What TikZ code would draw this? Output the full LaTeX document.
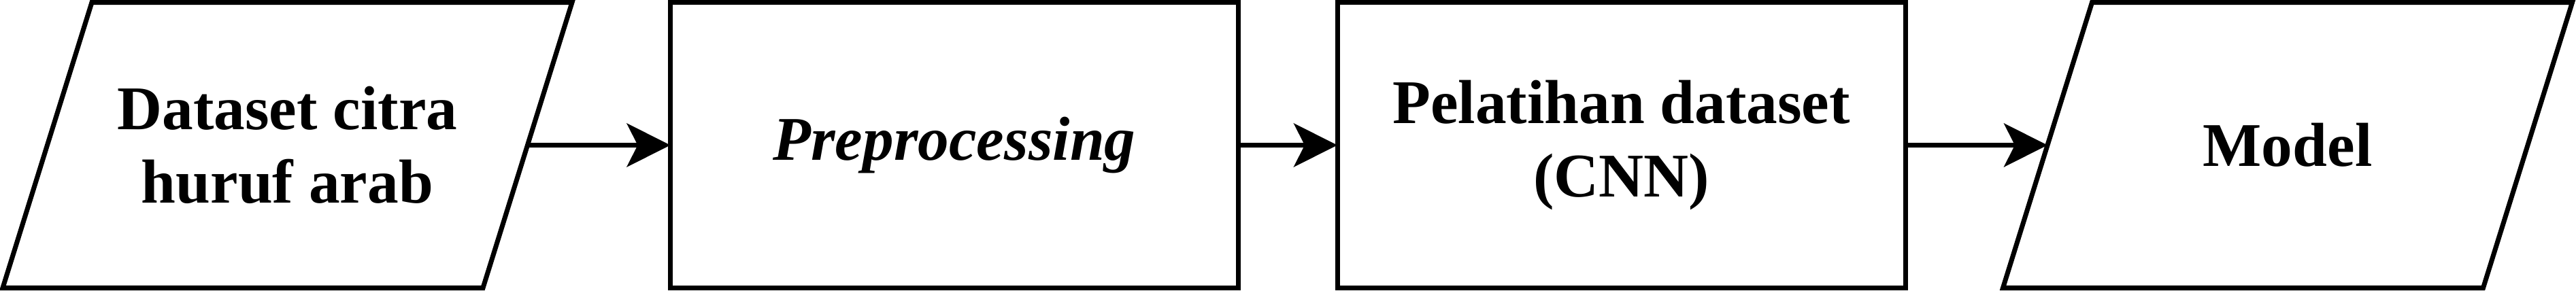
\documentclass[tikz,border=0pt]{standalone}
\usepackage{fontspec}
\setmainfont{Liberation Serif}
\usetikzlibrary{arrows.meta}

\begin{document}
\begin{tikzpicture}[
  box/.style = {draw,line width=2pt,minimum width=8.35cm,minimum height=4.2cm,
    inner sep=0pt,outer sep=0pt,align=center,font=\fontsize{26}{30.7}\selectfont\bfseries},
  para/.style = {box,draw=none,minimum width=7.06cm},
  flow/.style = {-{Stealth[length=0.64cm,width=0.64cm,inset=0.16cm]},line width=2pt}]

\useasboundingbox (0,0) rectangle (37.87,4.27);

\node (data) at (4.225,2.135)[para]{Dataset citra\\huruf arab};
\node (prep) at (14.03,2.135)[box]{\textit{Preprocessing}};
\node (train) at (23.835,2.135)[box]{Pelatihan dataset\\(CNN)};
\node (model) at (33.63,2.135)[para]{Model};

% slanted input/output boxes
\draw[line width=2pt]([xshift=-0.655cm]data.south west) -- ([xshift=-0.655cm]data.south east)
  -- ([xshift=0.655cm]data.north east) -- ([xshift=0.655cm]data.north west) -- cycle;
\draw[line width=2pt]([xshift=-0.655cm]model.south west) -- ([xshift=-0.655cm]model.south east)
  -- ([xshift=0.655cm]model.north east) -- ([xshift=0.655cm]model.north west) -- cycle;

\draw[flow](data.east) -- (prep.west);
\draw[flow](prep.east) -- (train.west);
\draw[flow](train.east) -- (model.west);

\end{tikzpicture}
\end{document}
